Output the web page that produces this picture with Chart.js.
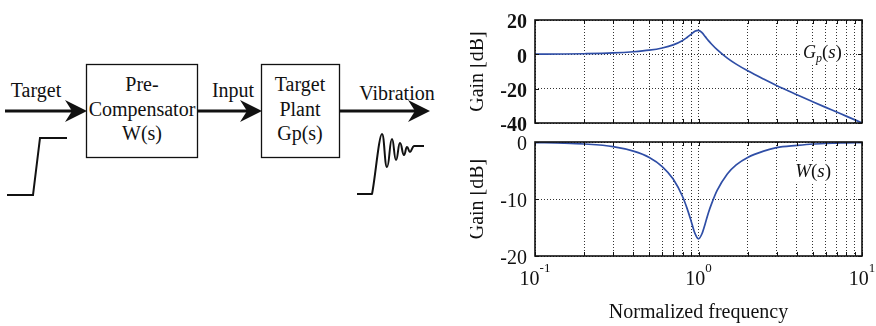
<!DOCTYPE html>
<html>
<head>
<meta charset="utf-8">
<script src="https://cdn.jsdelivr.net/npm/chart.js@4.4.0/dist/chart.umd.min.js"></script>
<style>
  body { margin: 0; background: #fff; }
  #wrap { position: relative; width: 876px; height: 326px; overflow: hidden; }
  #diagram { position: absolute; left: 0; top: 0; }
  .cv { position: absolute; left: 470px; top: 0; }
</style>
</head>
<body>
<div id="wrap">
  <svg id="diagram" width="470" height="326" xmlns="http://www.w3.org/2000/svg">
    <g stroke="#111" fill="none">
      <rect x="86.5" y="64.5" width="111" height="93" stroke-width="1.3"/>
      <rect x="261.5" y="64.5" width="78" height="93" stroke-width="1.3"/>
      <line x1="5" y1="111" x2="76" y2="111" stroke-width="3.2"/>
      <line x1="197" y1="111" x2="251" y2="111" stroke-width="3.2"/>
      <line x1="339" y1="111" x2="419" y2="111" stroke-width="3.2"/>
      <polyline points="7,195 33,195 40,138 67,138" stroke-width="2"/>
      <path d="M357,194 L372,194 C375,180 379,134 382,134 C384.5,134 384.5,167 387,167 C389.5,167 389.5,139 392,139 C394,139 394,160 396,160 C398,160 398,143 400,143 C402,143 402,155 404,155 C405.5,155 405.5,147 407,147 C408.5,147 408.5,152 410,152 C411.5,152 412,146.5 414,146 L424,146"
            stroke-width="2" stroke-linejoin="round"/>
    </g>
    <g fill="#111">
      <path d="M87,111 L65,100 L72,111 L65,122 Z"/>
      <path d="M262,111 L240,100 L247,111 L240,122 Z"/>
      <path d="M430,111 L408,100 L415,111 L408,122 Z"/>
    </g>
    <g font-family="Liberation Serif" font-size="20" fill="#111" text-anchor="middle">
      <text x="36" y="97">Target</text>
      <text x="142" y="91">Pre-</text>
      <text x="142" y="116">Compensator</text>
      <text x="142" y="140">W(s)</text>
      <text x="233" y="97">Input</text>
      <text x="300" y="91">Target</text>
      <text x="300" y="116">Plant</text>
      <text x="300" y="140">Gp(s)</text>
      <text x="397" y="100">Vibration</text>
    </g>
  </svg>
  <canvas id="gpChart" class="cv" width="406" height="326"></canvas>
  <canvas id="wChart" class="cv" width="406" height="326"></canvas>
</div>
<script>
// normalized frequency and gains
const FREQ = [0.1, 0.15, 0.2, 0.3, 0.4, 0.5, 0.6, 0.7, 0.8, 0.85, 0.9, 0.95, 1.0, 1.05, 1.1, 1.15, 1.2, 1.3, 1.5, 1.7, 2, 2.5, 3, 4, 5, 6, 7, 8, 10];
const GP_DB = [0.1, 0.2, 0.35, 0.8, 1.5, 2.4, 3.7, 5.5, 8.1, 9.8, 11.6, 13.4, 14.0, 12.6, 10.3, 8.0, 6.0, 2.7, -2.2, -5.7, -9.6, -14.4, -18.1, -23.5, -27.6, -30.9, -33.6, -36.0, -39.9];
const W_DB = [-0.1, -0.2, -0.35, -0.8, -1.6, -2.7, -4.3, -6.5, -9.6, -11.6, -13.8, -16.0, -17.0, -16.1, -14.3, -12.4, -10.9, -8.5, -5.6, -4.0, -2.7, -1.6, -1.0, -0.6, -0.35, -0.25, -0.2, -0.15, -0.1];

const GRID_FREQ = [0.1, 0.2, 0.3, 0.4, 0.5, 0.6, 0.7, 0.8, 0.9, 1, 2, 3, 4, 5, 6, 7, 8, 9, 10];
const DECADES = [0.1, 1, 10];
const DECADE_EXP = ['-1', '0', '1'];
const GP_TICKS = [20, 0, -20, -40];
const W_TICKS = [0, -10, -20];

const FONT = "'Liberation Serif', serif";
const LINE_COLOR = '#2f4ea6';

// box around plot area, inner tick marks and y title
const frame = {
  id: 'frame',
  afterDatasetsDraw(chart) {
    const { ctx, chartArea: a, scales: { x, y } } = chart;
    ctx.save();
    ctx.strokeStyle = '#111';
    ctx.lineWidth = 1;
    ctx.beginPath();
    x.ticks.forEach(t => {
      const px = Math.round(x.getPixelForValue(t.value)) + 0.5;
      ctx.moveTo(px, a.top); ctx.lineTo(px, a.top + 4);
      ctx.moveTo(px, a.bottom); ctx.lineTo(px, a.bottom - 4);
    });
    y.ticks.forEach(t => {
      const py = Math.round(y.getPixelForValue(t.value)) + 0.5;
      ctx.moveTo(a.left, py); ctx.lineTo(a.left + 4, py);
      ctx.moveTo(a.right, py); ctx.lineTo(a.right - 4, py);
    });
    ctx.stroke();
    ctx.lineWidth = 1.6;
    ctx.strokeRect(a.left, a.top, a.right - a.left, a.bottom - a.top);

    ctx.fillStyle = '#111';
    ctx.font = '20px ' + FONT;
    ctx.textAlign = 'center';
    ctx.textBaseline = 'middle';
    ctx.translate(a.left - 57, (a.top + a.bottom) / 2);
    ctx.rotate(-Math.PI / 2);
    ctx.fillText('Gain [dB]', 0, 0);
    ctx.restore();
  }
};

// italic transfer function name with white box behind it
function curveLabel(parts, freq, db) {
  return {
    id: 'curveLabel',
    afterDatasetsDraw(chart) {
      const { ctx, scales: { x, y } } = chart;
      let px = x.getPixelForValue(freq);
      const py = y.getPixelForValue(db);
      ctx.save();
      let w = 0;
      parts.forEach(p => { ctx.font = p.f + ' ' + FONT; w += ctx.measureText(p.t).width; });
      ctx.fillStyle = '#fff';
      ctx.fillRect(px - 2, py - 15, w + 4, 21);
      ctx.fillStyle = '#111';
      ctx.textBaseline = 'alphabetic';
      parts.forEach(p => {
        ctx.font = p.f + ' ' + FONT;
        ctx.fillText(p.t, px, py + (p.dy || 0));
        px += ctx.measureText(p.t).width;
      });
      ctx.restore();
    }
  };
}

// 10^n labels and x title under the lower plot
const decadeLabels = {
  id: 'decadeLabels',
  afterDraw(chart) {
    const { ctx, chartArea: a, scales: { x } } = chart;
    ctx.save();
    ctx.fillStyle = '#111';
    ctx.textBaseline = 'alphabetic';
    ctx.textAlign = 'left';
    DECADES.forEach((v, i) => {
      ctx.font = '20px ' + FONT;
      const wBase = ctx.measureText('10').width;
      ctx.font = '13px ' + FONT;
      const wExp = ctx.measureText(DECADE_EXP[i]).width;
      const left = x.getPixelForValue(v) - (wBase + wExp) / 2;
      ctx.font = '20px ' + FONT;
      ctx.fillText('10', left, a.bottom + 29);
      ctx.font = '13px ' + FONT;
      ctx.fillText(DECADE_EXP[i], left + wBase, a.bottom + 16);
    });
    ctx.font = '20px ' + FONT;
    ctx.textAlign = 'center';
    ctx.fillText('Normalized frequency', (a.left + a.right) / 2, a.bottom + 62);
    ctx.restore();
  }
};

function xScale(height) {
  return {
    type: 'logarithmic',
    min: 0.1,
    max: 10,
    afterBuildTicks: s => { s.ticks = GRID_FREQ.map(v => ({ value: v })); },
    afterFit: s => { s.height = height; },
    ticks: { display: false },
    grid: { color: 'rgba(0,0,0,0.8)', lineWidth: 1, drawTicks: false },
    border: { display: false, dash: [1, 2] }
  };
}

function yScale(min, max, tickValues, weight) {
  return {
    min: min,
    max: max,
    afterBuildTicks: s => { s.ticks = tickValues.map(v => ({ value: v })); },
    afterFit: s => { s.width = 65; },
    grid: { color: 'rgba(0,0,0,0.8)', lineWidth: 1, drawTicks: false },
    border: { display: false, dash: [1, 2] },
    ticks: { padding: 8, labelOffset: 3, color: '#111', font: { family: FONT, size: 20, weight: weight } }
  };
}

function lineData(values) {
  return {
    datasets: [{
      data: FREQ.map((f, i) => ({ x: f, y: values[i] })),
      borderColor: LINE_COLOR,
      borderWidth: 1.7,
      pointRadius: 0,
      cubicInterpolationMode: 'monotone',
      fill: false
    }]
  };
}

new Chart(document.getElementById('gpChart'), {
  type: 'line',
  data: lineData(GP_DB),
  options: {
    responsive: false,
    animation: false,
    events: [],
    layout: { padding: { left: 0, right: 14, top: 10, bottom: 203 } },
    plugins: { legend: { display: false }, tooltip: { enabled: false } },
    scales: { x: xScale(0), y: yScale(-40, 20, GP_TICKS, 'bold') }
  },
  plugins: [frame, curveLabel([
    { t: 'G', f: 'italic 18px' },
    { t: 'p', f: 'italic 12px', dy: 4 },
    { t: '(', f: '19px' },
    { t: 's', f: 'italic 19px' },
    { t: ')', f: '19px' }
  ], 4.35, -2.2)]
});

new Chart(document.getElementById('wChart'), {
  type: 'line',
  data: lineData(W_DB),
  options: {
    responsive: false,
    animation: false,
    events: [],
    layout: { padding: { left: 0, right: 14, top: 142, bottom: 0 } },
    plugins: { legend: { display: false }, tooltip: { enabled: false } },
    scales: { x: xScale(70), y: yScale(-20, 0, W_TICKS, 'normal') }
  },
  plugins: [frame, decadeLabels, curveLabel([
    { t: 'W', f: 'italic 19px' },
    { t: '(', f: '19px' },
    { t: 's', f: 'italic 19px' },
    { t: ')', f: '19px' }
  ], 3.9, -6.2)]
});
</script>
</body>
</html>
